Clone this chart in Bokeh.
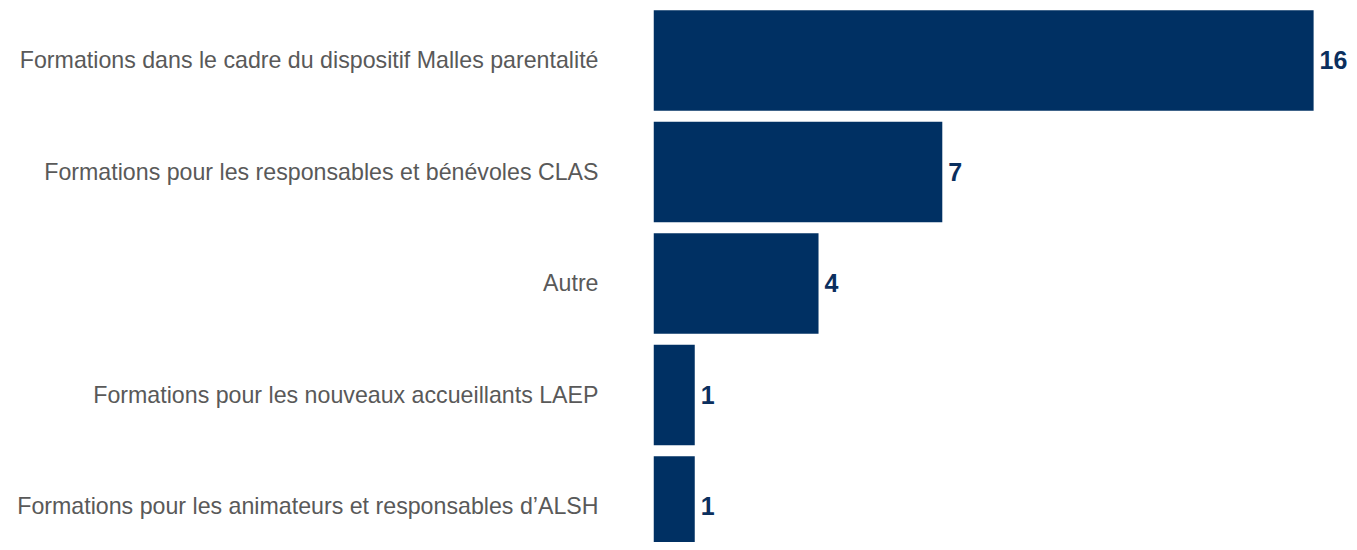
from bokeh.plotting import figure
from bokeh.models import ColumnDataSource, Range1d, FixedTicker
from bokeh.core.properties import value
from bokeh.embed import file_html
from bokeh.resources import INLINE

categories = [
    "Formations dans le cadre du dispositif Malles parentalité",
    "Formations pour les responsables et bénévoles CLAS",
    "Autre",
    "Formations pour les nouveaux accueillants LAEP",
    "Formations pour les animateurs et responsables d’ALSH",
]
counts = [16, 7, 4, 1, 1]

positions = list(range(len(categories)))
source = ColumnDataSource(dict(
    y=positions,
    v=counts,
    lbl=[str(c) for c in counts],
))

BAR = "#003063"
TXT = "#595959"

p = figure(
    width=1349, height=542,
    output_backend="svg", toolbar_location=None,
    x_range=Range1d(0, 16.87),
    y_range=Range1d(4.323, -0.538),
    min_border_left=653, min_border_right=0,
    min_border_top=0, min_border_bottom=0,
)
p.outline_line_color = None
p.xgrid.visible = False
p.ygrid.visible = False
p.xaxis.visible = False

p.hbar(y="y", right="v", left=0, height=0.9, source=source,
       fill_color=BAR, line_color=None)

p.text(x="v", y="y", text="lbl", source=source,
       x_offset=6, text_baseline="middle", text_align="left",
       text_font=value("Liberation Sans"), text_font_style="bold",
       text_font_size="25px", text_color="#0b2f5e")

ax = p.yaxis[0]
ax.ticker = FixedTicker(ticks=positions)
ax.major_label_overrides = {i: c for i, c in zip(positions, categories)}
ax.axis_line_color = None
ax.major_tick_line_color = None
ax.minor_tick_line_color = None
ax.major_tick_out = 0
ax.major_tick_in = 0
ax.major_label_standoff = 55
ax.major_label_text_font = "Liberation Sans"
ax.major_label_text_font_size = "23.2px"
ax.major_label_text_color = TXT

open("out.html", "w").write(file_html(p, INLINE))
